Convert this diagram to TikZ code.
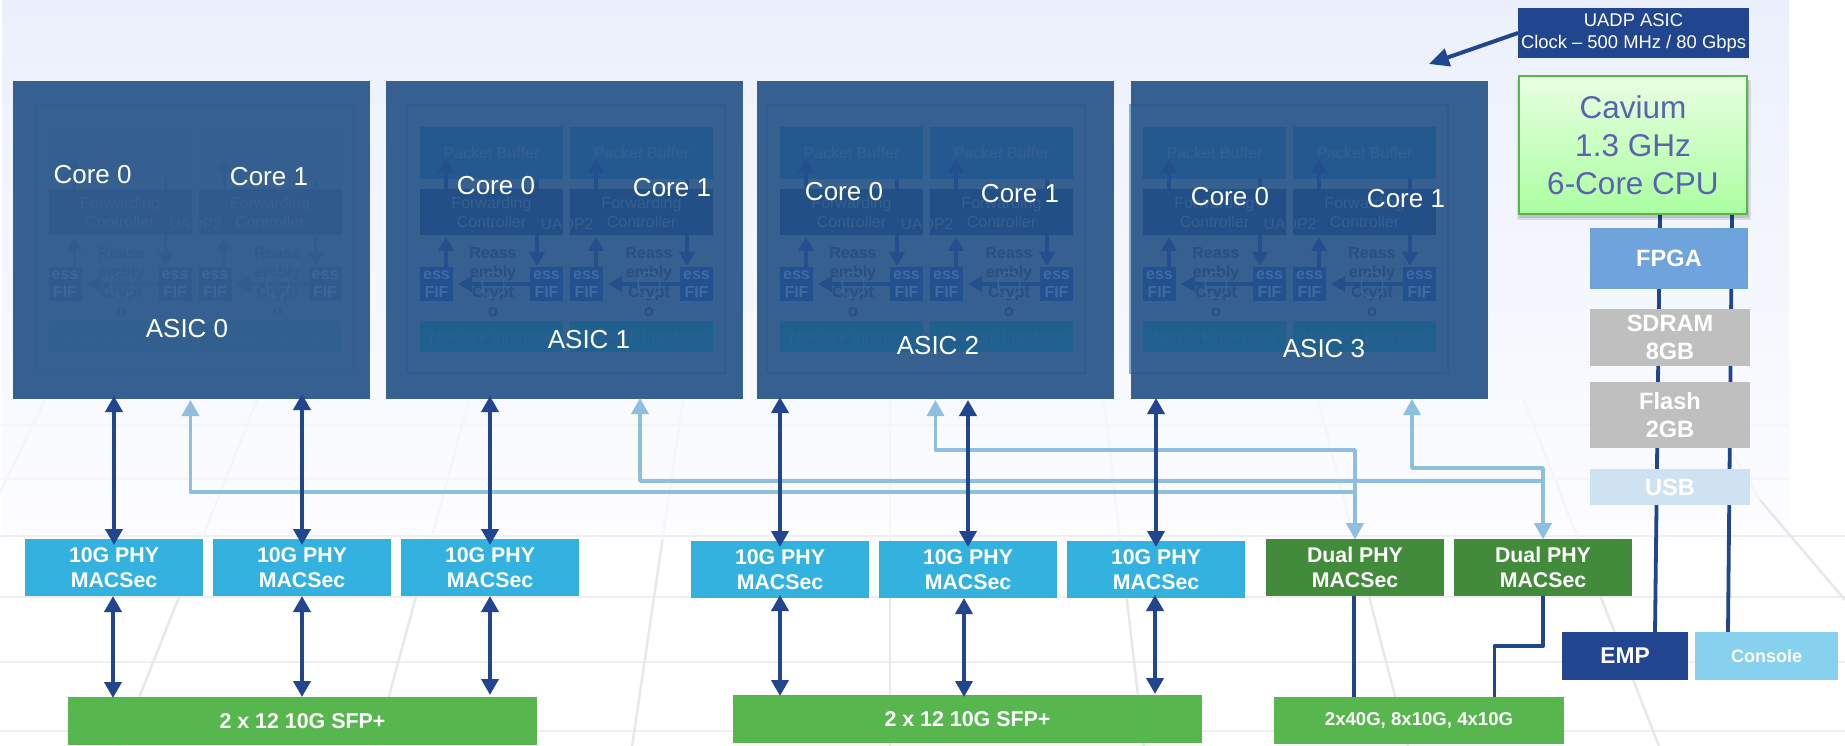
\documentclass[tikz,border=0pt]{standalone}
\usepackage{fontspec}
\setmainfont{Liberation Sans}
\usetikzlibrary{arrows.meta,shapes.geometric}
\pgfdeclarelayer{under}
\pgfsetlayers{under,main}
\definecolor{navy}{HTML}{21458F}
\definecolor{lightl}{HTML}{8FBFE0}
\definecolor{asicc}{HTML}{36608F}
\definecolor{phyc}{HTML}{33B2E0}
\definecolor{dualc}{HTML}{428B3A}
\definecolor{sfpc}{HTML}{58B64F}
\definecolor{fpgac}{HTML}{6FA3DC}
\definecolor{greyc}{HTML}{BFBFBF}
\definecolor{usbc}{HTML}{CFE2F1}
\definecolor{consc}{HTML}{87D1EE}
\definecolor{cavtx}{HTML}{5B62B0}
\definecolor{gridlo}{HTML}{E7E8E9}
\definecolor{gridhi}{HTML}{F4F6FA}
% strong palette
\definecolor{spb}{HTML}{23598F}\definecolor{sfw}{HTML}{214F86}\definecolor{sff}{HTML}{23508F}
\definecolor{sni}{HTML}{20608F}\definecolor{sfr}{HTML}{2F5B8E}\definecolor{sar}{HTML}{23508C}
\definecolor{stx}{HTML}{365F90}\definecolor{sbt}{HTML}{2A4F80}\definecolor{sft}{HTML}{3F6CA0}
\definecolor{snt}{HTML}{2E5F92}
% faint palette
\definecolor{fpb}{HTML}{345F90}\definecolor{ffw}{HTML}{315A8C}\definecolor{fff}{HTML}{2F5B8F}
\definecolor{fni}{HTML}{31608F}\definecolor{ffr}{HTML}{335E8F}\definecolor{far}{HTML}{305C90}
\definecolor{ftx}{HTML}{38618F}\definecolor{fbt}{HTML}{305B8B}\definecolor{fft}{HTML}{3C6798}
\definecolor{fnt}{HTML}{35608F}
\newcommand{\fs}[1]{\fontsize{#1}{#1}\selectfont}
\tikzset{
  flat/.style={rectangle,inner sep=0pt,outer sep=0pt,align=center},
  wtext/.style={text=white,font=\bfseries},
  dbl/.style={draw=navy,line width=3.8pt,{Triangle[width=17pt,length=16pt]}-{Triangle[width=17pt,length=16pt]}},
  lite/.style={draw=lightl,line width=3.5pt,line join=round,{Triangle[width=17pt,length=16pt]}-{Triangle[width=17pt,length=16pt]}},
  navyline/.style={draw=navy,line width=3.8pt,line join=round},
  innerarrow/.style={line width=3.5pt,-{Triangle[width=15pt,length=14pt]}},
  gridv/.style={line width=2.5pt},
  gridh/.style={line width=2pt},
  coretext/.style={text=white,font=\fs{26},yshift=-1pt},
  phytext/.style={wtext,font=\bfseries\fontsize{21.3}{25}\selectfont},
  stacktext/.style={wtext,font=\bfseries\fontsize{23.6}{28.5}\selectfont}
}
% \pbox{style}{name}{x1}{y1}{x2}{y2}{text}
\newcommand{\pbox}[7]{%
  \pgfmathsetmacro{\pcx}{(#3+#5)/2}\pgfmathsetmacro{\pcy}{(#4+#6)/2}%
  \pgfmathsetmacro{\pw}{#5-#3}\pgfmathsetmacro{\ph}{#6-#4}%
  \node[flat,minimum width=\pw pt,minimum height=\ph pt,#1] (#2) at (\pcx,\pcy) {#7};}
% one half of an ASIC drawing: prefix, palette, text offset
\newcommand{\coregroup}[3]{%
  \pbox{fill=#2pb,text=#2tx,font=\fs{16}}{#1pb}{420}{127}{563}{179}{Packet Buffer}
  \pbox{fill=#2fw,text=#2tx,font=\fontsize{16}{19}\selectfont}{#1fw}{420}{189}{563}{235}{Forwarding\\Controller}
  \pbox{fill=#2ff,text=#2ft,font=\bfseries\fontsize{16}{18}\selectfont}{#1fl}{420}{267}{453}{301}{ess\\FIF}
  \pbox{fill=#2ff,text=#2ft,font=\bfseries\fontsize{16}{18}\selectfont}{#1fr}{530}{267}{563}{301}{ess\\FIF}
  \pbox{fill=#2ni,text=#2nt,font=\fs{15.8}}{#1ni}{420}{321}{563}{352}{Network Interface}
  \draw[innerarrow,draw=#2ar,shorten >=2pt] ([xshift=9.5pt]#1fl.north) -- ([xshift=9.5pt]#1fl.north |- #1fw.south);
  \draw[innerarrow,draw=#2ar,shorten >=-20pt] ([xshift=-45.5pt]#1fw.north) -- ([xshift=-45.5pt]#1pb.south);
  \draw[line width=3.5pt,draw=#2ar] ([xshift=45.5pt]#1pb.south) -- ([xshift=45.5pt]#1fw.north);
  \draw[innerarrow,draw=#2ar,shorten >=1pt] ([xshift=-9.5pt]#1fr.north |- #1fw.south) -- ([xshift=-9.5pt]#1fr.north);
  \draw[innerarrow,draw=#2ar,shorten >=5pt] (#1fr.west) -- (#1fl.east);
  \node[flat,text=#2bt,font=\bfseries\fontsize{16}{19.3}\selectfont] (#1rc) at (#3,282) {Reass\\embly\\Crypt\\o};
  \node[ellipse,draw=#2ft,line width=0.8pt,minimum width=22pt,minimum height=26pt,inner sep=0pt] (#1el) at (#3,285) {};
}
\newcommand{\asicinner}[3]{%
  \begin{scope}[xshift=#3pt]
    \pbox{draw=#2fr,line width=2pt}{#1fr0}{407}{105}{725}{373}{}
    \coregroup{#1a}{#2}{493}
    \begin{scope}[xshift=150pt]\coregroup{#1b}{#2}{499}\end{scope}
    \node[flat,text=#2tx,font=\fs{15.8}] (#1ua) at (567,224) {UADP2};
  \end{scope}}
\begin{document}
\begin{tikzpicture}[x=1pt,y=-1pt]
\useasboundingbox (0,0) rectangle (1845,746);
\begin{pgfonlayer}{under}
  \fill[white] (0,0) rectangle (1845,746);
  \shade[top color={rgb,255:red,235;green,240;blue,252},bottom color={rgb,255:red,253;green,253;blue,255}] (2,0) rectangle (1789,540);
  % perspective floor grid
  \foreach \yy in {425,479}{\draw[gridh,gridhi] (0,\yy) -- (1789,\yy);}
  \foreach \yy in {536,597,662,731}{\draw[gridh,gridlo!70!white] (0,\yy) -- (1845,\yy);}
  \foreach \xa/\sl in {45/-0.49,257/-0.396,469/-0.27,683/-0.147,890/0,1104/0.115,1318/0.26,1524/0.39}{
    \pgfmathsetmacro{\xb}{\xa+140*\sl}\pgfmathsetmacro{\xc}{\xa+346*\sl}
    \draw[gridv,gridhi] (\xa,400) -- (\xb,540);
    \draw[gridv,gridlo] (\xb,540) -- (\xc,746);}
  \draw[gridv,gridhi] (1700,400) -- (1760,500);
  \draw[gridv,gridlo] (1760,500) -- (1845,600);
\end{pgfonlayer}

% ASIC blocks
\pbox{fill=asicc}{a0}{13}{81}{370}{399}{}
\pbox{fill=asicc}{a1}{386}{81}{743}{399}{}
\pbox{fill=asicc}{a2}{757}{81}{1114}{399}{}
\pbox{fill=asicc}{a3}{1131}{81}{1488}{399}{}
\asicinner{p}{f}{-371.5}
\asicinner{q}{s}{0}
\asicinner{r}{s}{360}
\asicinner{t}{s}{723}
\pbox{fill=lightl!85!asicc}{a3edge}{1129}{104}{1131}{374}{}
\node[coretext] (c00) at (92.6,174) {Core 0};
\node[coretext] (c01) at (269,176) {Core 1};
\node[coretext] (n0) at (187,328) {ASIC 0};
\node[coretext] (c10) at (496,185) {Core 0};
\node[coretext] (c11) at (672,187) {Core 1};
\node[coretext] (n1) at (589,339) {ASIC 1};
\node[coretext] (c20) at (844,191) {Core 0};
\node[coretext] (c21) at (1020,193) {Core 1};
\node[coretext] (n2) at (938,345) {ASIC 2};
\node[coretext] (c30) at (1230,196) {Core 0};
\node[coretext] (c31) at (1406,198) {Core 1};
\node[coretext] (n3) at (1324,348) {ASIC 3};

% top label
\pbox{fill=navy,text=white,font=\fontsize{18.4}{22.5}\selectfont}{uadp}{1518}{8}{1749}{58}{UADP ASIC\\Clock – 500 MHz / 80 Gbps}
\coordinate (uadptip) at (1429,64);
\draw[draw=navy,line width=4pt,-{Triangle[width=18pt,length=20pt]}] (uadp.west) -- (uadptip);

% right stack
\fill[black,opacity=0.10] (1517,80) rectangle (1751,220);
\fill[black,opacity=0.12] (1519,80) rectangle (1749,218);
\pbox{top color={rgb,255:red,232;green,255;blue,226},bottom color={rgb,255:red,170;green,255;blue,160},draw=sfpc,line width=2pt,text=cavtx,font=\fontsize{31.5}{38}\selectfont}{cavium}{1519}{76}{1747}{214}{Cavium\\1.3 GHz\\6-Core CPU}
\pbox{fill=fpgac,stacktext}{fpga}{1590}{228}{1748}{289}{FPGA}
\pbox{fill=greyc,stacktext}{sdram}{1590}{309}{1750}{366}{SDRAM\\8GB}
\pbox{fill=greyc,stacktext}{flash}{1590}{382}{1750}{448}{Flash\\2GB}
\pbox{fill=usbc,stacktext}{usb}{1590}{469}{1750}{505}{USB}
\pbox{fill=navy,wtext,font=\bfseries\fs{22.8}}{emp}{1562}{632}{1688}{680}{EMP}
\pbox{fill=consc,wtext,font=\bfseries\fs{18}}{console}{1695}{632}{1838}{680}{Console}
\begin{pgfonlayer}{under}
  \draw[navyline] ([xshift=27pt]cavium.south) -- ([xshift=30pt]emp.north);
  \draw[navyline] ([xshift=99pt]cavium.south) -- ([xshift=-38.5pt]console.north);
\end{pgfonlayer}

% PHY rows
\pbox{fill=phyc,phytext}{phy1}{25}{539}{203}{596}{10G PHY\\MACSec}
\pbox{fill=phyc,phytext}{phy2}{213}{539}{391}{596}{10G PHY\\MACSec}
\pbox{fill=phyc,phytext}{phy3}{401}{539}{579}{596}{10G PHY\\MACSec}
\pbox{fill=phyc,phytext}{phy4}{691}{541}{869}{598}{10G PHY\\MACSec}
\pbox{fill=phyc,phytext}{phy5}{879}{541}{1057}{598}{10G PHY\\MACSec}
\pbox{fill=phyc,phytext}{phy6}{1067}{541}{1245}{598}{10G PHY\\MACSec}
\pbox{fill=dualc,phytext}{d1}{1266}{539}{1444}{596}{Dual PHY\\MACSec}
\pbox{fill=dualc,phytext}{d2}{1454}{539}{1632}{596}{Dual PHY\\MACSec}
\pbox{fill=sfpc,wtext,font=\bfseries\fs{21.4}}{sfp1}{68}{697}{537}{745}{2 x 12 10G SFP+}
\pbox{fill=sfpc,wtext,font=\bfseries\fs{21.4}}{sfp2}{733}{695}{1202}{743}{2 x 12 10G SFP+}
\pbox{fill=sfpc,wtext,font=\bfseries\fs{18.6}}{uplink}{1274}{697}{1564}{744}{2x40G, 8x10G, 4x10G}

% light-blue links
\draw[lite] ([xshift=-1pt]a0.south) ++(0,1) -- ++(0,92) -| (d1.north);
\draw[lite] (a2.south) ++(0,1) -- ++(0,50) -| (d1.north);
\draw[lite] ([xshift=75.5pt]a1.south) ++(0,-1) -- ++(0,83) -| (d2.north);
\draw[lite] ([xshift=102.5pt]a3.south) -- ++(0,69) -| (d2.north);

% navy double arrows, ASIC to PHY
\draw[dbl,shorten <=-3pt,shorten >=-6pt] (a0.south -| phy1.north) -- (phy1.north);
\draw[dbl,shorten <=-5pt,shorten >=-6pt] (a0.south -| phy2.north) -- (phy2.north);
\draw[dbl,shorten <=-3pt,shorten >=-6pt] (a1.south -| phy3.north) -- (phy3.north);
\draw[dbl,shorten <=-2pt,shorten >=-6pt] (a2.south -| phy4.north) -- (phy4.north);
\draw[dbl,shorten <=1pt,shorten >=-6pt] (a2.south -| phy5.north) -- (phy5.north);
\draw[dbl,shorten <=-1pt,shorten >=-6pt] (a3.south -| phy6.north) -- (phy6.north);
% navy double arrows, PHY to SFP
\draw[dbl,shorten >=-1pt] ([xshift=-1pt]phy1.south) -- ([xshift=-1pt]phy1.south |- sfp1.north);
\draw[dbl] (phy2.south) -- (phy2.south |- sfp1.north);
\draw[dbl,shorten >=2pt] (phy3.south) -- (phy3.south |- sfp1.north);
\draw[dbl,shorten <=-3pt,shorten >=-1pt] (phy4.south) -- (phy4.south |- sfp2.north);
\draw[dbl,shorten >=-2pt] ([xshift=-4pt]phy5.south) -- ([xshift=-4pt]phy5.south |- sfp2.north);
\draw[dbl,shorten <=-3pt,shorten >=1pt] ([xshift=-1pt]phy6.south) -- ([xshift=-1pt]phy6.south |- sfp2.north);
% uplink lines
\draw[navyline] ([xshift=-1pt]d1.south) -- ([xshift=-1pt]d1.south |- uplink.north);
\draw[navyline] (d2.south) -- ++(0,50) -| ([xshift=75.5pt]uplink.north);
\end{tikzpicture}
\end{document}
